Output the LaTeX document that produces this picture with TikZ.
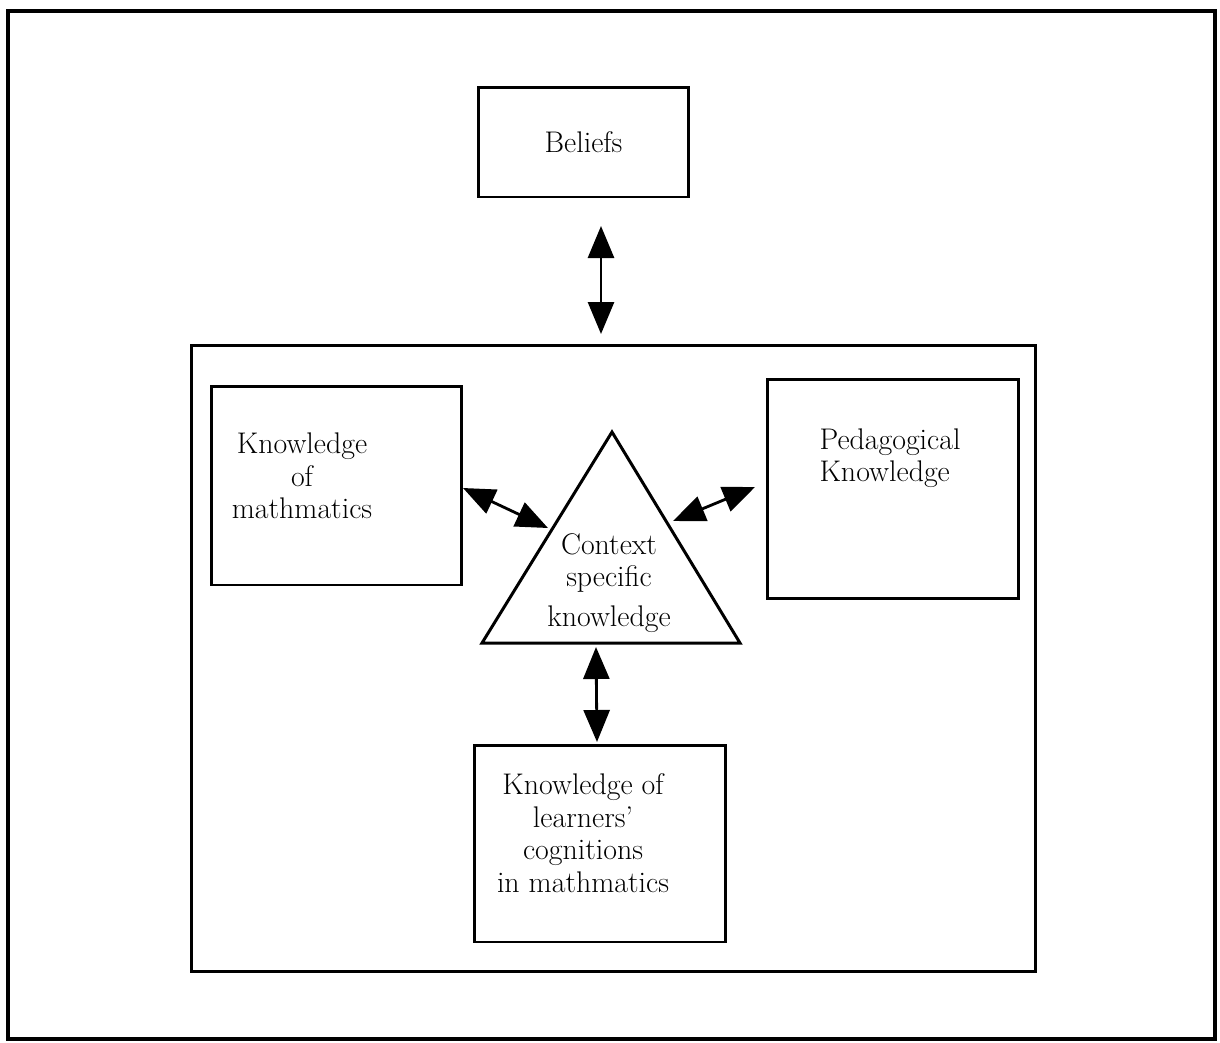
\documentclass[tikz,border=0pt]{standalone}
\usetikzlibrary{positioning,arrows.meta}
\tikzset{
    frame/.style={
        draw,line width=1.7pt,inner sep=0pt,outer sep=0pt
    },
    lbl/.style={
        align=center,font=\fontsize{17}{18.5}\selectfont,inner sep=0pt
    },
    dbl/.style={
        line width=1.6pt,{Triangle[length=.64cm,width=.52cm]}-{Triangle[length=.64cm,width=.52cm]}
    }
}
\begin{document}
\begin{tikzpicture}[x=.02cm,y=-.02cm]
\useasboundingbox (0,0) rectangle (1220,1042);
\draw[line width=1.9pt] (8,11) rectangle (1215,1039);
\node[frame,minimum width=16.9cm,minimum height=12.54cm] (inner) at (613.5,658.5) {};
\node[frame,minimum width=4.22cm,minimum height=2.2cm] (beliefs) at (583.5,142) {};
\node[lbl] (beliefstxt) at (beliefs) {Beliefs};
\node[frame,minimum width=5.02cm,minimum height=3.98cm] (maths) at (336.5,485.5) {};
\node[lbl] (mathstxt) at (302,476) {Knowledge\\ of\\ mathmatics};
\node[frame,minimum width=5.04cm,minimum height=4.4cm] (ped) at (893,489) {};
\node[lbl,align=left] (pedtxt) at (890,458) {Pedagogical\\Knowledge};
\node[frame,minimum width=5.04cm,minimum height=3.94cm] (learn) at (600,843.5) {};
\node[lbl] (learntxt) at (583,833) {Knowledge of\\ learners'\\ cognitions\\ in mathmatics};
% triangle
\coordinate (apex) at (612,432);
\coordinate (baseL) at (482,643);
\coordinate (baseR) at (740,643);
\draw[line width=1.7pt,line join=miter] (apex) -- (baseL) -- (baseR) -- cycle;
\node[lbl] (ctxtxt) at (609,583) {Context\\ specific\\[4pt] knowledge};
% arrow ends
\coordinate (b1) at (601,226);
\coordinate (b2) at (601,334);
\coordinate (m1) at (463,488);
\coordinate (m2) at (548,528);
\coordinate (p1) at (755,487);
\coordinate (p2) at (673,521);
\coordinate (l1) at (596,647);
\coordinate (l2) at (597,742);
\draw[dbl] (b1) -- (b2);
\draw[dbl] (m1) -- (m2);
\draw[dbl] (p1) -- (p2);
\draw[dbl] (l1) -- (l2);
\end{tikzpicture}
\end{document}
